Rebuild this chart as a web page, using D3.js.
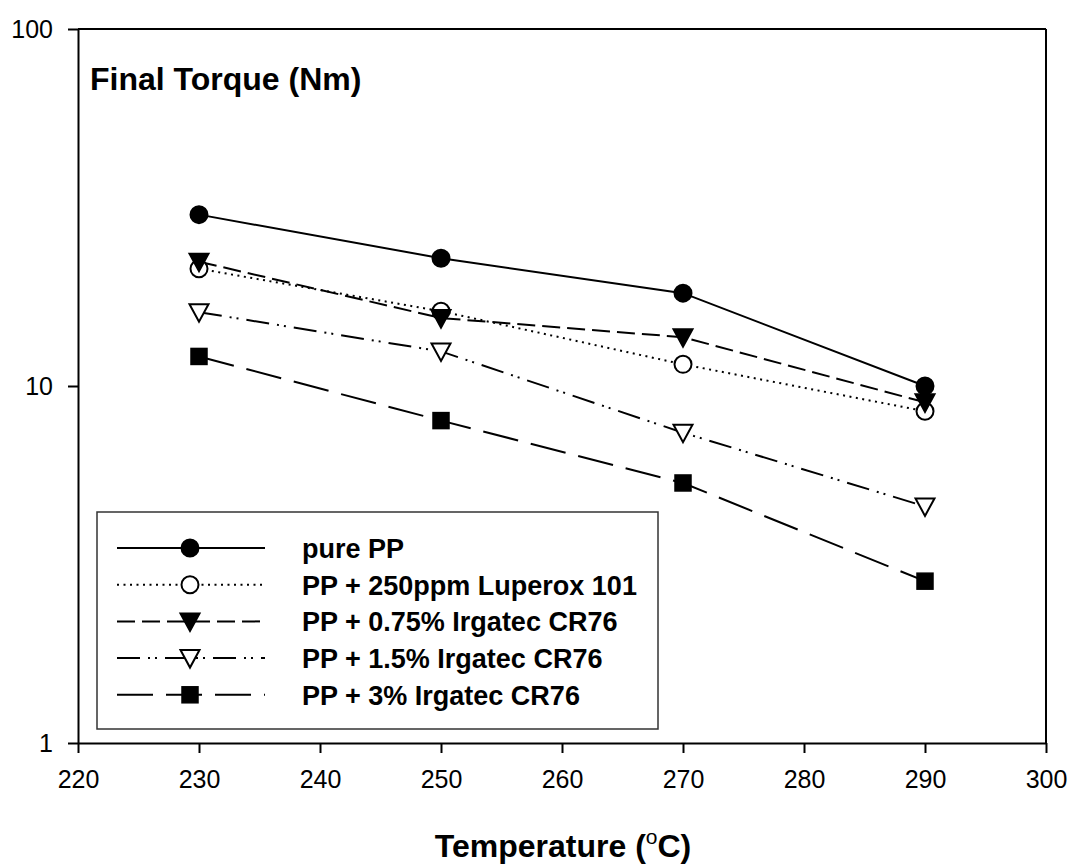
<!DOCTYPE html>
<html>
<head>
<meta charset="utf-8">
<script src="https://cdn.jsdelivr.net/npm/d3@7"></script>
<style>
  body { margin: 0; background: #fff; }
  svg { font-family: "Liberation Sans", Arial, sans-serif; }
</style>
</head>
<body>
<div id="display"></div>
<script>
var temps = [230, 250, 270, 290]
var seriesNames = ["pure PP", "PP + 250ppm Luperox 101", "PP + 0.75% Irgatec CR76", "PP + 1.5% Irgatec CR76", "PP + 3% Irgatec CR76"]
var purePP = [30.2, 22.8, 18.2, 10.0]
var luperox = [21.3, 16.2, 11.5, 8.5]
var irg075 = [22.3, 15.5, 13.7, 9.0]
var irg15 = [16.1, 12.5, 7.4, 4.6]
var irg3 = [12.1, 8.0, 5.35, 2.84]
var xTicks = [220, 230, 240, 250, 260, 270, 280, 290, 300]
var yTicks = [1, 10, 100]

var width = 1072, height = 865;
var margin = {left: 78, right: 26, top: 29, bottom: 122};

var x = d3.scaleLinear()
    .domain([220, 300])
    .range([margin.left, width - margin.right]);

var y = d3.scaleLog()
    .domain([1, 100])
    .range([height - margin.bottom, margin.top]);

var svg = d3.select("#display")
    .append("svg")
    .attr("width", width)
    .attr("height", height);

// line styles + markers per series
var styles = [
  {values: purePP, dash: null, marker: "circle", fill: "#000"},
  {values: luperox, dash: "2,4.5", marker: "circle", fill: "#fff"},
  {values: irg075, dash: "18,7", marker: "tri", fill: "#000"},
  {values: irg15, dash: "23,8,2,5,2,8", marker: "tri", fill: "#fff"},
  {values: irg3, dash: "36,13", marker: "square", fill: "#000"}
];

function drawMarker(g, type, fill, cx, cy) {
  if (type == "circle") {
    g.append("circle").attr("cx", cx).attr("cy", cy).attr("r", 8.5)
      .attr("fill", fill).attr("stroke", "#000").attr("stroke-width", 2);
  } else if (type == "tri") {
    g.append("path")
      .attr("d", "M" + (cx - 9.5) + "," + (cy - 8) + "L" + (cx + 9.5) + "," + (cy - 8) + "L" + cx + "," + (cy + 9.5) + "Z")
      .attr("fill", fill).attr("stroke", "#000").attr("stroke-width", 2);
  } else {
    g.append("rect").attr("x", cx - 8).attr("y", cy - 8).attr("width", 16).attr("height", 16)
      .attr("fill", fill).attr("stroke", "#000").attr("stroke-width", 1.5);
  }
}

var line = d3.line()
    .x((d, i) => x(temps[i]))
    .y(d => y(d));

styles.forEach(function(s) {
  svg.append("path")
    .attr("d", line(s.values))
    .attr("fill", "none")
    .attr("stroke", "#000")
    .attr("stroke-width", 2)
    .attr("stroke-dasharray", s.dash);
});
styles.forEach(function(s) {
  var g = svg.append("g");
  s.values.forEach(function(v, i) {
    drawMarker(g, s.marker, s.fill, x(temps[i]), y(v));
  });
});

// frame
svg.append("line").attr("x1", x(220)).attr("x2", x(300)).attr("y1", y(100)).attr("y2", y(100))
  .attr("stroke", "#000").attr("stroke-width", 2);
svg.append("line").attr("x1", x(300)).attr("x2", x(300)).attr("y1", y(100)).attr("y2", y(1))
  .attr("stroke", "#000").attr("stroke-width", 2);

var xAxis = svg.append("g")
    .attr("transform", "translate(0," + y(1) + ")")
    .call(d3.axisBottom(x).tickValues(xTicks).tickSize(10).tickPadding(17).tickSizeOuter(0));
var yAxis = svg.append("g")
    .attr("transform", "translate(" + x(220) + ",0)")
    .call(d3.axisLeft(y).tickValues(yTicks).tickFormat(d3.format("d")).tickSize(10).tickPadding(15).tickSizeOuter(0));

[xAxis, yAxis].forEach(function(a) {
  a.attr("font-size", null).attr("font-family", null);
  a.select(".domain").attr("stroke-width", 2);
  a.selectAll(".tick line").attr("stroke-width", 2);
  a.selectAll("text").style("font-size", "25px").attr("fill", "#000");
});

// titles
svg.append("text")
  .attr("x", 90).attr("y", 90)
  .style("font-size", "32px").style("font-weight", "bold")
  .text("Final Torque (Nm)");

var xt = svg.append("text")
  .attr("x", (x(220) + x(300)) / 2 + 1).attr("y", 857)
  .attr("text-anchor", "middle")
  .style("font-size", "32px").style("font-weight", "bold");
xt.append("tspan").text("Temperature (");
xt.append("tspan").text("o").attr("dy", -13).style("font-size", "21px").style("font-weight", "normal");
xt.append("tspan").text("C)").attr("dy", 13);

// legend
var legend = svg.append("g");
legend.append("rect")
  .attr("x", 97).attr("y", 512).attr("width", 561).attr("height", 217)
  .attr("fill", "#fff").attr("stroke", "#333").attr("stroke-width", 1.5);

styles.forEach(function(s, i) {
  var ly = 548 + i * 36.7;
  legend.append("line")
    .attr("x1", 117).attr("x2", 265).attr("y1", ly).attr("y2", ly)
    .attr("stroke", "#000").attr("stroke-width", 2)
    .attr("stroke-dasharray", s.dash);
  drawMarker(legend, s.marker, s.fill, 190, ly);
  legend.append("text")
    .attr("x", 302).attr("y", ly + 10)
    .style("font-size", "27px").style("font-weight", "bold")
    .text(seriesNames[i]);
});
</script>
</body>
</html>
